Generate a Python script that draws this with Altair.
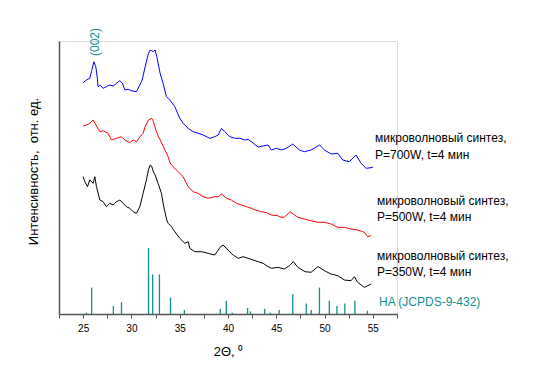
import altair as alt
import pandas as pd

# ---- data (2θ in degrees, intensity in arbitrary units) ----
blue_x = [25.00, 25.34, 25.69, 25.86, 26.11, 26.31, 26.45, 26.55, 26.73, 27.07, 27.41, 27.76, 28.11, 28.45,
          28.80, 29.07, 29.32, 29.66, 30.00, 30.52, 30.87, 31.11, 31.42, 31.76, 31.94, 32.28, 32.45, 32.63,
          32.97, 33.28, 33.62, 33.98, 34.49, 35.01, 35.35, 35.87, 36.39, 36.90, 37.42, 38.12, 38.63, 38.98,
          39.32, 39.67, 40.19, 40.70, 41.22, 41.74, 42.08, 42.60, 43.12, 43.63, 44.15, 44.49, 45.01, 45.53,
          46.05, 46.71, 47.39, 47.91, 48.60, 49.48, 50.00, 50.67, 51.37, 51.88, 52.57, 53.26, 53.78, 54.30,
          54.81, 55.02]
blue_y = [231.3, 234, 235.7, 242.3, 252.3, 247.3, 237.3, 227.3, 229, 225.7, 227.3, 229, 228, 230.7,
          233.3, 230.7, 224, 224.7, 223.3, 222.3, 229, 234, 247.3, 260.7, 264, 262.3, 264, 257.3,
          240.7, 230.7, 217.3, 214, 207.3, 195.7, 190.7, 185.7, 182.3, 180.7, 179, 175.7, 177.3, 179,
          185.7, 182.3, 177.3, 175.7, 175.7, 174, 174.7, 171, 167, 168, 169, 164, 165.7, 164,
          165.7, 170, 164, 162.3, 164, 169, 164, 160, 160.7, 154, 152.3, 159, 150.7, 145.7,
          146.3, 147]

red_x = [25.00, 25.34, 25.69, 26.04, 26.38, 26.73, 27.07, 27.59, 27.93, 28.45, 28.96, 29.32, 29.83, 30.18,
         30.52, 30.90, 31.21, 31.42, 31.76, 32.11, 32.28, 32.53, 32.80, 33.15, 33.46, 33.80, 34.01, 34.32,
         34.83, 35.35, 35.87, 36.39, 36.90, 37.42, 37.94, 38.63, 38.98, 39.32, 39.83, 40.35, 40.87, 41.39,
         41.91, 42.42, 42.81, 43.46, 43.98, 44.49, 45.16, 45.39, 45.84, 46.43, 47.23, 47.91, 48.60, 49.30,
         49.98, 50.67, 51.37, 52.05, 52.74, 53.43, 54.12, 54.47, 54.81]
red_y = [188, 189, 190.7, 194, 188, 182.3, 183.3, 180.7, 174, 175.7, 177.3, 174, 171.3, 174,
         172.3, 177.3, 180.7, 187.3, 194, 195.7, 192.3, 184, 177.3, 170.7, 164, 157.3, 151, 147.3,
         142.3, 137.3, 127.3, 122.3, 120.7, 117.3, 115.7, 117.3, 117.3, 120, 115.7, 114, 110.7, 109,
         107.3, 105.7, 104, 102.3, 101.3, 99, 98.3, 97, 96.7, 102.3, 96.7, 95, 93.3, 91.7,
         91.7, 90, 86.7, 86.7, 85, 84, 81.7, 77.3, 78.3]

black_x = [25.00, 25.18, 25.45, 25.69, 26.04, 26.21, 26.38, 26.73, 27.07, 27.41, 27.76, 28.11, 28.45, 28.80,
           29.14, 29.48, 29.83, 30.18, 30.52, 30.87, 31.21, 31.55, 31.76, 31.94, 32.09, 32.28, 32.45, 32.76,
           33.11, 33.31, 33.66, 33.80, 34.14, 34.49, 35.01, 35.53, 35.87, 36.05, 36.56, 37.25, 37.94, 38.63,
           39.18, 39.49, 40.01, 40.53, 41.05, 41.57, 42.08, 42.60, 43.12, 43.63, 44.15, 44.53, 45.16, 45.84,
           46.36, 46.77, 47.23, 47.98, 48.60, 49.33, 49.98, 50.67, 51.37, 52.05, 52.74, 53.09, 53.43, 54.12,
           54.47, 54.81]
black_y = [137.3, 132.3, 127.3, 134, 130.7, 137.3, 127.3, 114, 112.3, 107.3, 110.7, 109, 112.3, 114,
           110.7, 107.3, 105.7, 102.3, 100.7, 107.3, 120.7, 134, 144, 149, 148, 142, 139, 130.7,
           120.7, 109, 94, 90.7, 87.3, 82.3, 75.7, 70.7, 72.3, 65.7, 62.3, 62.3, 60.7, 59,
           66.7, 69, 64, 59, 55.7, 57.3, 55.7, 54, 52.3, 50.7, 47.3, 45.7, 46.7, 45,
           48.3, 52.3, 46.7, 42.3, 41.7, 47.5, 43.3, 40, 38.3, 34, 33.3, 37.3, 31.7, 26.7,
           28.3, 30]

# HA reference pattern (JCPDS 9-432), relative intensity %
ha_2theta = [25.35, 25.88, 28.13, 28.97, 31.77, 32.20, 32.90, 34.05, 35.48, 39.20, 39.82, 40.45, 42.03,
             42.32, 43.80, 44.37, 45.30, 46.71, 48.10, 48.62, 49.47, 50.49, 51.28, 52.10, 53.14, 54.44]
ha_int = [2, 40, 12, 18, 100, 60, 60, 25, 6, 8, 20, 2, 9, 4, 8, 2, 6, 30, 16, 6, 40, 20, 12, 16, 20, 5]

series_names = ["P=700W", "P=500W", "P=350W"]
series_colors = ["#0000ff", "#ff0000", "#000000"]

rows = []
for name, xs, ys in zip(series_names, [blue_x, red_x, black_x], [blue_y, red_y, black_y]):
    for i, (a, b) in enumerate(zip(xs, ys)):
        rows.append({"series": name, "t": a, "i": b, "order": i})
curves = pd.DataFrame(rows)
ha = pd.DataFrame({"t": ha_2theta, "rel": ha_int})

FONT = "Liberation Sans"
TEAL = "#138f8f"
AX = "#555555"

x_scale = alt.Scale(domain=[22.5, 57.5], nice=False, zero=False)
y_scale = alt.Scale(domain=[0, 273], nice=False, zero=False)

tick_vals = [22.5 + 2.5 * k for k in range(15)]
x_axis = alt.Axis(
    values=tick_vals, labelExpr="datum.value % 5 == 0 ? datum.label : ''", labelOverlap=False,
    title="2Θ, ⁰", grid=False, tickSize=4, tickColor=AX, domainColor=AX, domainWidth=1.5,
    labelFont=FONT, labelFontSize=10, labelPadding=5, labelColor="#000",
    titleFont=FONT, titleFontSize=13, titleFontWeight="normal", titlePadding=12, titleColor="#000",
)
y_axis = alt.Axis(
    title="Интенсивность,\u00a0 отн. ед.", labels=False, ticks=False, tickSize=0, grid=False,
    domainColor=AX, domainWidth=1.5, titleFont=FONT, titleFontSize=13, titleFontWeight="normal",
    titlePadding=19, titleColor="#000", titleY=130,
)

lines = alt.Chart(curves).mark_line(strokeWidth=1).encode(
    x=alt.X("t:Q", scale=x_scale, axis=x_axis),
    y=alt.Y("i:Q", scale=y_scale, axis=y_axis),
    color=alt.Color("series:N", scale=alt.Scale(domain=series_names, range=series_colors), legend=None),
    order="order:Q",
)

sticks = alt.Chart(ha).transform_calculate(h="datum.rel * 0.66").mark_rule(
    color=TEAL, strokeWidth=1.3
).encode(
    x=alt.X("t:Q", scale=x_scale, axis=x_axis),
    y=alt.Y("h:Q", scale=y_scale, axis=y_axis),
    y2=alt.datum(0),
)


def label(text, px, py, color="#000", size=12, angle=0, align="left", baseline="alphabetic"):
    return alt.Chart(alt.Data(values=[{}])).mark_text(
        text=text, font=FONT, fontSize=size, color=color, angle=angle, align=align, baseline=baseline
    ).encode(x=alt.value(px), y=alt.value(py))


texts = [
    label("микроволновый синтез,", 316, 100.7),
    label("P=700W, t=4 мин", 316, 118),
    label("микроволновый синтез,", 318, 163.7),
    label("P=500W, t=4 мин", 318, 180),
    label("микроволновый синтез,", 318, 218.7),
    label("P=350W, t=4 мин", 318, 235.3),
    label("HA (JCPDS-9-432)", 320, 264.7, color=TEAL),
    label("(002)", 36, 1, color=TEAL, size=12, angle=270, align="center", baseline="middle"),
]

chart = alt.layer(sticks, lines, *texts).properties(
    width=338, height=273,
    autosize=alt.AutoSizeParams(type="none"),
    padding={"left": 51, "top": 33, "right": 137, "bottom": 66},
).configure_view(stroke=None).configure(background="white")

chart.save("out.html", embed_options={"renderer": "svg", "actions": False})
